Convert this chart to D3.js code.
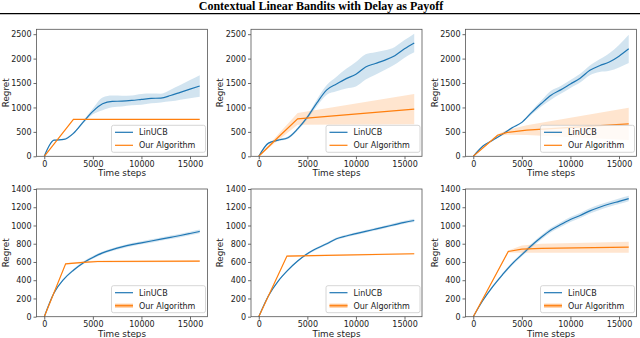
<!DOCTYPE html>
<html>
<head>
<meta charset="utf-8">
<script src="https://cdn.jsdelivr.net/npm/d3@7"></script>
<style>
  body { margin: 0; background: #fff; }
  svg text { font-family: "DejaVu Sans", sans-serif; fill: #222; }
</style>
</head>
<body>
<div id="chart"></div>
<script>
// ---- data ----
var timeSteps = [0,1000,2000,3000,4000,5000,6000,7000,8000,9000,10000,11000,12000,13000,14000,15000,16000];

var linucb1 = [0,330,345,470,700,920,1075,1125,1130,1145,1165,1185,1192,1245,1310,1375,1440];
var linucbSpread1 = [0,10,15,20,30,60,130,120,110,100,110,100,90,120,150,185,220];
var ourT1 = [0,3000,16000];
var our1 = [0,755,755];
var ourSpread1 = [0,3,3];

var linucb2 = [0,270,330,380,560,800,1100,1360,1480,1590,1680,1830,1900,1970,2060,2200,2320];
var linucbSpread2 = [0,15,20,25,30,40,70,100,150,200,250,260,230,200,180,180,190];
var ourT2 = [0,2000,4000,16000];
var our2 = [0,390,765,965];
var ourSpread2 = [0,60,120,310];

var linucb3 = [0,210,330,450,585,695,895,1080,1250,1360,1480,1600,1760,1855,1930,2050,2200];
var linucbSpread3 = [0,10,15,15,20,20,40,60,90,80,80,90,100,130,180,230,290];
var ourT3 = [0,2500,3500,5500,16000];
var our3 = [0,430,490,535,662];
var ourSpread3 = [0,20,50,100,330];

var linucb4 = [0,260,410,510,590,650,700,735,765,790,810,830,850,870,890,912,935];
var linucbSpread4 = [0,8,10,12,14,15,15,16,16,17,17,18,18,19,19,20,20];
var ourT4 = [0,2200,4000,5500,16000];
var our4 = [0,580,595,605,610];
var ourSpread4 = [0,8,10,10,10];

var linucb5 = [0,230,390,510,610,690,750,800,855,885,910,935,960,985,1010,1035,1055];
var linucbSpread5 = [0,6,8,10,10,12,12,14,14,14,15,15,16,16,17,17,18];
var ourT5 = [0,2900,16000];
var our5 = [0,665,690];
var ourSpread5 = [0,8,8];

var linucb6 = [0,180,330,460,580,680,780,870,950,1010,1065,1110,1160,1200,1235,1265,1295];
var linucbSpread6 = [0,8,12,15,18,20,22,24,25,26,27,28,28,29,29,30,30];
var ourT6 = [0,3600,5000,7000,16000];
var our6 = [0,715,740,750,762];
var ourSpread6 = [0,10,40,50,60];

var xTicks = [0,5000,10000,15000];
var yTicksTop = [0,500,1000,1500,2000,2500];
var yTicksBottom = [0,200,400,600,800,1000,1200,1400];
var seriesNames = ["LinUCB", "Our Algorithm"];

var blue = "#1f77b4", orange = "#ff7f0e";

var panels = [
  {lin: linucb1, ls: linucbSpread1, ot: ourT1, o: our1, os: ourSpread1, row: 0, col: 0},
  {lin: linucb2, ls: linucbSpread2, ot: ourT2, o: our2, os: ourSpread2, row: 0, col: 1},
  {lin: linucb3, ls: linucbSpread3, ot: ourT3, o: our3, os: ourSpread3, row: 0, col: 2},
  {lin: linucb4, ls: linucbSpread4, ot: ourT4, o: our4, os: ourSpread4, row: 1, col: 0},
  {lin: linucb5, ls: linucbSpread5, ot: ourT5, o: our5, os: ourSpread5, row: 1, col: 1},
  {lin: linucb6, ls: linucbSpread6, ot: ourT6, o: our6, os: ourSpread6, row: 1, col: 2}
];

var width = 640, height = 338;
var svg = d3.select("#chart").append("svg")
  .attr("width", width).attr("height", height);

// title + rule
svg.append("text")
  .attr("x", 321).attr("y", 9.5)
  .attr("text-anchor", "middle")
  .style("font-family", "'Liberation Serif', 'Times New Roman', serif")
  .style("font-weight", "bold")
  .style("font-size", "12px")
  .style("fill", "#000")
  .text("Contextual Linear Bandits with Delay as Payoff");
svg.append("line")
  .attr("x1", 0).attr("x2", width).attr("y1", 13.6).attr("y2", 13.6)
  .attr("stroke", "#000").attr("stroke-width", 1.4);

var colLeft = [36.5, 251, 465.5];
var rowTop = [29.3, 189];
var pw = 171, ph = [127, 127.7];

panels.forEach(function(p, i) {
  var left = colLeft[p.col], top = rowTop[p.row], h = ph[p.row];
  var x = d3.scaleLinear().domain([-800, 16800]).range([0, pw]);
  var y = d3.scaleLinear().domain(p.row === 0 ? [0, 2600] : [0, 1400]).range([h, 0]);
  var g = svg.append("g").attr("transform", "translate(" + left + "," + top + ")");

  var clipId = "clip" + i;
  g.append("clipPath").attr("id", clipId)
    .append("rect").attr("width", pw).attr("height", h);
  var plot = g.append("g").attr("clip-path", "url(#" + clipId + ")");

  var linData = timeSteps.map(function(t, k) { return {t: t, v: p.lin[k], s: p.ls[k]}; });
  var ourData = p.ot.map(function(t, k) { return {t: t, v: p.o[k], s: p.os[k]}; });

  var area = function(curve) {
    return d3.area().curve(curve)
      .x(function(d) { return x(d.t); })
      .y0(function(d) { return y(d.v - d.s); })
      .y1(function(d) { return y(d.v + d.s); });
  };
  var line = function(curve) {
    return d3.line().curve(curve)
      .x(function(d) { return x(d.t); })
      .y(function(d) { return y(d.v); });
  };

  plot.append("path").datum(linData)
    .attr("d", area(d3.curveMonotoneX))
    .attr("fill", blue).attr("fill-opacity", 0.2);
  plot.append("path").datum(ourData)
    .attr("d", area(d3.curveLinear))
    .attr("fill", orange).attr("fill-opacity", 0.2);
  plot.append("path").datum(linData)
    .attr("d", line(d3.curveMonotoneX))
    .attr("fill", "none").attr("stroke", blue).attr("stroke-width", 1.2);
  plot.append("path").datum(ourData)
    .attr("d", line(d3.curveLinear))
    .attr("fill", "none").attr("stroke", orange).attr("stroke-width", 1.2);

  // axes
  var xAxis = g.append("g").attr("transform", "translate(0," + h + ")")
    .call(d3.axisBottom(x).tickValues(xTicks).tickSize(3).tickPadding(2).tickFormat(d3.format("d")));
  var yAxis = g.append("g")
    .call(d3.axisLeft(y).tickValues(p.row === 0 ? yTicksTop : yTicksBottom).tickSize(3).tickPadding(2).tickFormat(d3.format("d")));
  [xAxis, yAxis].forEach(function(a) {
    a.select(".domain").remove();
    a.selectAll(".tick line").attr("stroke", "#444").attr("stroke-width", 0.8);
    a.selectAll(".tick text").style("font-size", "8px").style("font-family", "'DejaVu Sans', sans-serif").attr("fill", "#222");
  });
  g.append("rect").attr("width", pw).attr("height", h)
    .attr("fill", "none").attr("stroke", "#555").attr("stroke-width", 0.8);

  g.append("text")
    .attr("x", pw / 2).attr("y", h + 19.8)
    .attr("text-anchor", "middle")
    .style("font-size", "8.8px")
    .text("Time steps");
  g.append("text")
    .attr("transform", "translate(" + (-28) + "," + (h / 2) + ") rotate(-90)")
    .attr("text-anchor", "middle")
    .style("font-size", "8.8px")
    .text("Regret");

  // legend
  var lw = 94, lh = 27;
  var leg = g.append("g").attr("transform", "translate(" + (pw - lw - 2) + "," + (h - lh - 4) + ")");
  leg.append("rect").attr("width", lw).attr("height", lh).attr("rx", 2)
    .attr("fill", "#fff").attr("fill-opacity", 0.8)
    .attr("stroke", "#ccc").attr("stroke-width", 0.8);
  seriesNames.forEach(function(name, k) {
    var ly = 7 + k * 13;
    var col = k === 0 ? blue : orange;
    if (k === 1 && p.row === 1) {
      leg.append("line").attr("x1", 3.5).attr("x2", 21.5).attr("y1", ly).attr("y2", ly)
        .attr("stroke", orange).attr("stroke-opacity", 0.45).attr("stroke-width", 4);
    }
    leg.append("line").attr("x1", 3.5).attr("x2", 21.5).attr("y1", ly).attr("y2", ly)
      .attr("stroke", col).attr("stroke-width", 1.2);
    leg.append("text").attr("x", 27.5).attr("y", ly + 3)
      .style("font-size", "8px")
      .text(name);
  });
});
</script>
</body>
</html>
